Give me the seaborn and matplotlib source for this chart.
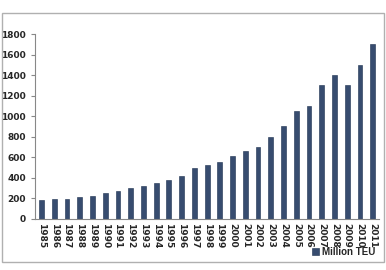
import numpy as np
import pandas as pd
import seaborn as sns
import matplotlib.pyplot as plt
from matplotlib.patches import Rectangle

years = [str(y) for y in range(1985, 2012)]
teu = [180, 190, 195, 210, 225, 250, 275, 300, 325, 350, 375, 420, 500, 525,
       550, 610, 660, 700, 800, 900, 1050, 1100, 1300, 1400, 1300, 1500, 1700]
series_name = 'Million TEU'

df = pd.DataFrame({'year': years, 'teu': teu, 'series': series_name})

sns.set_style('white')
plt.rcParams['font.family'] = ['DejaVu Sans']

fig = plt.figure(figsize=(3.86, 2.70), dpi=100)
# outer chart frame
fig.patches.append(Rectangle((2 / 386, 1 - 262 / 270), 382 / 386, 249 / 270,
                             transform=fig.transFigure, fill=False,
                             edgecolor='#b0b0b0', linewidth=1.0))
ax = fig.add_axes([0.091, 0.189, 0.891, 0.685])

sns.barplot(data=df, x='year', y='teu', hue='series', palette=['#2e4a78'],
            width=0.38, edgecolor='#1c2f4f', linewidth=0.4, ax=ax)

ax.set_ylim(0, 1800)
ax.set_yticks(np.arange(0, 1801, 200))
ax.set_xlim(-0.5, len(years) - 0.5)
ax.set_xlabel('')
ax.set_ylabel('')
for s in ['top', 'right']:
    ax.spines[s].set_visible(False)
for s in ['left', 'bottom']:
    ax.spines[s].set_color('#888888')
    ax.spines[s].set_linewidth(0.8)

ax.set_xticks(np.arange(len(years)))
ax.set_xticklabels(years, rotation=-90, fontsize=6.5, fontweight='bold')
ax.set_xticks(np.arange(len(years) + 1) - 0.5, minor=True)
ax.tick_params(axis='x', which='major', length=0, pad=3)
ax.tick_params(axis='x', which='minor', length=3, color='#888888', direction='out')
ax.tick_params(axis='y', labelsize=6.5, length=3, color='#888888', direction='out', left=True)
for lab in ax.get_yticklabels():
    lab.set_fontweight('bold')

ax.legend(loc='center left', bbox_to_anchor=(0.805, -0.178), frameon=False,
          handlelength=0.7, handleheight=0.7, handletextpad=0.3,
          borderpad=0, borderaxespad=0,
          prop={'family': 'Liberation Sans', 'weight': 'bold', 'size': 7})

fig.savefig('out.png', dpi=100)
